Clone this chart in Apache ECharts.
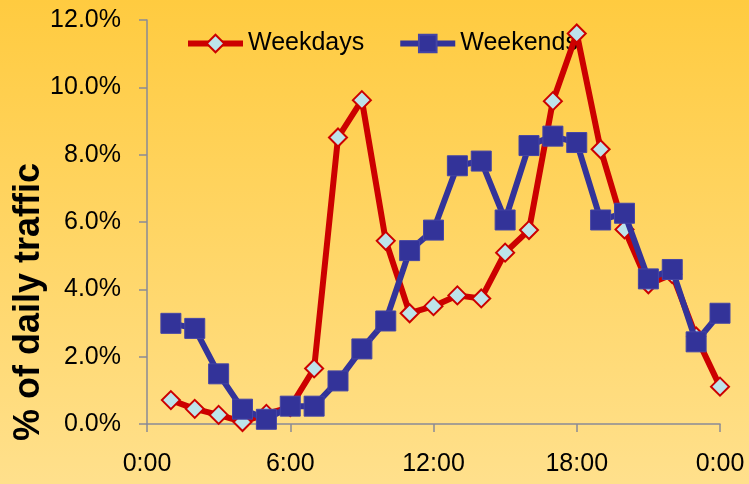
<!DOCTYPE html>
<html>
<head>
<meta charset="utf-8">
<script src="https://cdn.jsdelivr.net/npm/echarts@6/dist/echarts.min.js"></script>
<style>
  html, body { margin: 0; padding: 0; }
  #chart { width: 749px; height: 484px; }
</style>
</head>
<body>
<div id="chart"></div>
<script>
// Hour of day for each reading (1:00 ... 24:00)
var hours = [1, 2, 3, 4, 5, 6, 7, 8, 9, 10, 11, 12, 13, 14, 15, 16, 17, 18, 19, 20, 21, 22, 23, 24];
// Share of daily traffic per hour, in percent
var weekdays = [0.71, 0.45, 0.27, 0.06, 0.30, 0.50, 1.65, 8.51, 9.62, 5.44, 3.29, 3.50, 3.82, 3.73, 5.09, 5.76, 9.59, 11.60, 8.16, 5.78, 4.15, 4.45, 2.60, 1.11];
var weekends = [2.99, 2.84, 1.49, 0.44, 0.14, 0.53, 0.53, 1.28, 2.23, 3.06, 5.15, 5.76, 7.67, 7.81, 6.06, 8.27, 8.55, 8.36, 6.06, 6.26, 4.31, 4.59, 2.44, 3.29];
// Tick labels along the time axis
var timeTicks = ['0:00', '6:00', '12:00', '18:00', '0:00'];
var seriesNames = ['Weekdays', 'Weekends'];
var yTitle = '% of daily traffic';

function pairs(xs, ys) {
  return xs.map(function (x, i) { return [x, ys[i]]; });
}

var chart = echarts.init(document.getElementById('chart'), null, { renderer: 'canvas' });
var font = 'Liberation Sans, Arial, sans-serif';

chart.setOption({
  animation: false,
  backgroundColor: new echarts.graphic.LinearGradient(0, 0, 0, 1, [
    { offset: 0, color: '#FFCB40' },
    { offset: 1, color: '#FFE08C' }
  ]),
  grid: { left: 147, right: 29, top: 20, bottom: 60, containLabel: false },
  legend: {
    data: seriesNames,
    left: 185,
    top: 31,
    padding: 0,
    z: 1,
    itemWidth: 55,
    itemHeight: 22,
    itemGap: 33,
    lineStyle: { width: 6 },
    textStyle: { fontFamily: font, fontSize: 25, color: '#000' }
  },
  xAxis: {
    type: 'value',
    min: 0,
    max: 24,
    interval: 6,
    axisLine: { show: true, lineStyle: { color: '#8A8A96', width: 1.5 } },
    axisTick: { show: true, length: 8, lineStyle: { color: '#8A8A96', width: 1.5 } },
    splitLine: { show: false },
    axisLabel: {
      margin: 28,
      fontFamily: font,
      fontSize: 25,
      color: '#000',
      formatter: function (v) { return timeTicks[Math.round(v / 6)]; }
    }
  },
  yAxis: {
    type: 'value',
    min: 0,
    max: 12,
    interval: 2,
    axisLine: { show: true, lineStyle: { color: '#8A8A96', width: 1.5 } },
    axisTick: { show: true, inside: false, length: 8, lineStyle: { color: '#8A8A96', width: 1.5 } },
    splitLine: { show: false },
    axisLabel: {
      margin: 26,
      fontFamily: font,
      fontSize: 25,
      color: '#000',
      formatter: function (v) { return v.toFixed(1) + '%'; }
    }
  },
  graphic: [{
    type: 'text',
    x: 29,
    y: 302,
    rotation: Math.PI / 2,
    style: {
      text: yTitle,
      fontFamily: font,
      fontWeight: 'bold',
      fontSize: 36,
      fill: '#000',
      align: 'center',
      verticalAlign: 'middle'
    }
  }],
  series: [
    {
      name: seriesNames[0],
      type: 'line',
      data: pairs(hours, weekdays),
      symbol: 'diamond',
      symbolSize: 18,
      lineStyle: { color: '#CC0000', width: 6 },
      itemStyle: { color: '#BDE3EA', borderColor: '#CC0000', borderWidth: 2 },
      z: 3
    },
    {
      name: seriesNames[1],
      type: 'line',
      data: pairs(hours, weekends),
      symbol: 'rect',
      symbolSize: 20,
      lineStyle: { color: '#333399', width: 6 },
      itemStyle: { color: '#333399', borderColor: '#4545A5', borderWidth: 1 },
      z: 4
    }
  ]
});
</script>
</body>
</html>
